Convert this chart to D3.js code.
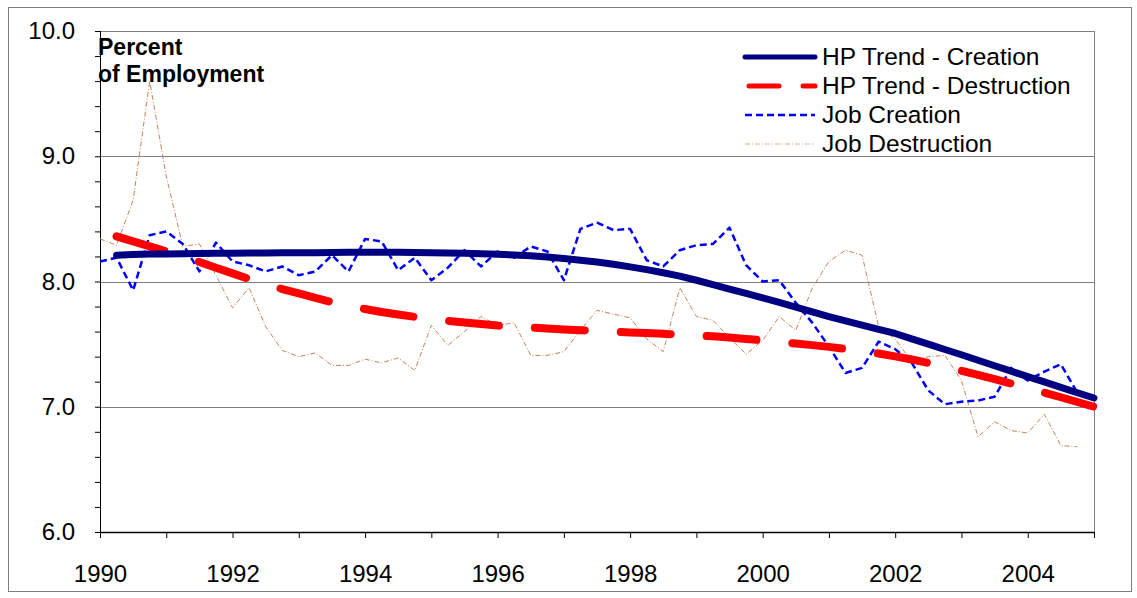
<!DOCTYPE html>
<html>
<head>
<meta charset="utf-8">
<script src="https://cdn.jsdelivr.net/npm/d3@7"></script>
<style>
  body { margin: 0; background: #fff; }
  svg text { font-family: Arial, "Liberation Sans", sans-serif; }
</style>
</head>
<body>
<div id="chart"></div>
<script>
// quarterly series
var rawStart = 1990.0;   // first quarter of the job series
var trendStart = 1990.25; // HP trends are plotted one quarter later

var jobCreation = [
  8.16, 8.19, 7.93, 8.37, 8.40, 8.30, 8.08, 8.31, 8.16, 8.13,
  8.08, 8.12, 8.05, 8.08, 8.21, 8.08, 8.34, 8.32, 8.09, 8.19,
  8.01, 8.11, 8.25, 8.12, 8.24, 8.19, 8.28, 8.24, 8.01, 8.42,
  8.47, 8.41, 8.42, 8.17, 8.12, 8.25, 8.29, 8.30, 8.43, 8.13,
  8.00, 8.01, 7.83, 7.67, 7.48, 7.27, 7.31, 7.52, 7.46, 7.35,
  7.13, 7.02, 7.04, 7.05, 7.08, 7.31, 7.21, 7.28, 7.34, 7.11
];

var jobDestruction = [
  8.34, 8.29, 8.65, 9.60, 8.84, 8.28, 8.30, 8.05, 7.79, 7.95,
  7.64, 7.45, 7.40, 7.43, 7.33, 7.33, 7.38, 7.35, 7.39, 7.29,
  7.65, 7.49, 7.60, 7.72, 7.65, 7.67, 7.41, 7.41, 7.44, 7.61,
  7.77, 7.74, 7.71, 7.54, 7.44, 7.95, 7.72, 7.69, 7.55, 7.42,
  7.53, 7.72, 7.61, 7.95, 8.16, 8.25, 8.21, 7.64, 7.54, 7.36,
  7.40, 7.41, 7.21, 6.76, 6.88, 6.81, 6.79, 6.94, 6.69, 6.68
];

var hpCreation = [
  8.210, 8.215, 8.220, 8.220, 8.222, 8.224, 8.225, 8.226, 8.227, 8.228,
  8.229, 8.230, 8.230, 8.232, 8.233, 8.233, 8.233, 8.233, 8.232, 8.230,
  8.228, 8.225, 8.222, 8.218, 8.212, 8.205, 8.195, 8.183, 8.170, 8.155,
  8.137, 8.117, 8.095, 8.070, 8.043, 8.010, 7.975, 7.940, 7.905, 7.870,
  7.833, 7.796, 7.758, 7.720, 7.686, 7.652, 7.618, 7.585, 7.542, 7.500,
  7.457, 7.415, 7.371, 7.327, 7.284, 7.240, 7.198, 7.155, 7.112, 7.070
];

var hpDestruction = [
  8.360, 8.320, 8.280, 8.240, 8.200, 8.155, 8.110, 8.065, 8.020, 7.980,
  7.940, 7.905, 7.870, 7.835, 7.805, 7.780, 7.757, 7.737, 7.718, 7.700,
  7.685, 7.672, 7.660, 7.648, 7.640, 7.632, 7.624, 7.617, 7.611, 7.605,
  7.599, 7.593, 7.588, 7.582, 7.576, 7.570, 7.562, 7.552, 7.541, 7.530,
  7.518, 7.505, 7.492, 7.478, 7.462, 7.445, 7.425, 7.402, 7.377, 7.350,
  7.320, 7.288, 7.254, 7.220, 7.185, 7.150, 7.113, 7.076, 7.038, 7.000
];

var xLabelYears = [1990, 1992, 1994, 1996, 1998, 2000, 2002, 2004];
var yLabelValues = [6, 7, 8, 9, 10];
var legendNames = ["HP Trend - Creation", "HP Trend - Destruction", "Job Creation", "Job Destruction"];
var titleLines = ["Percent", "of Employment"];

var W = 1137, H = 598;
var margin = { top: 31, right: 43, bottom: 66, left: 100 },
  width = W - margin.left - margin.right,
  height = H - margin.top - margin.bottom;

var svg = d3
  .select("#chart")
  .append("svg")
  .attr("width", W)
  .attr("height", H);

// outer frame
svg.append("rect")
  .attr("x", 8.5).attr("y", 7.5)
  .attr("width", W - 14).attr("height", H - 14)
  .attr("fill", "none")
  .attr("stroke", "#7f7f7f")
  .attr("stroke-width", 1);

var g = svg.append("g")
  .attr("transform", "translate(" + margin.left + "," + margin.top + ")");

var x = d3.scaleLinear().domain([1990, 2005]).range([0, width]);
var y = d3.scaleLinear().domain([6, 10]).range([height, 0]);

// gridlines + plot frame
g.selectAll(".grid")
  .data([7, 8, 9])
  .enter()
  .append("line")
  .attr("x1", 0).attr("x2", width)
  .attr("y1", function (d) { return Math.round(y(d)) + 0.5; })
  .attr("y2", function (d) { return Math.round(y(d)) + 0.5; })
  .attr("stroke", "#808080");

g.append("line")
  .attr("x1", 0).attr("x2", width).attr("y1", 0.5).attr("y2", 0.5)
  .attr("stroke", "#808080");
g.append("line")
  .attr("x1", width + 0.5).attr("x2", width + 0.5).attr("y1", 0).attr("y2", height)
  .attr("stroke", "#808080");

// y axis: minor ticks every 0.2, labels on whole numbers
var yAxis = d3.axisLeft(y)
  .tickValues(d3.range(30, 51).map(function (d) { return d / 5; }))
  .tickSize(5)
  .tickPadding(20)
  .tickFormat(function (d) {
    return yLabelValues.indexOf(Math.round(d * 10) / 10) >= 0 ? d3.format(".1f")(d) : "";
  });

g.append("g")
  .call(yAxis)
  .call(function (s) {
    s.attr("font-family", null).attr("font-size", null);
    s.selectAll("text").style("font-size", "24px").attr("fill", "#000");
    s.selectAll("line").attr("stroke", "#000");
    s.select(".domain").attr("stroke", "#000").attr("d", "M0.5,0V" + height);
  });

// x axis: yearly ticks, labels every two years
var xAxis = d3.axisBottom(x)
  .tickValues(d3.range(1990, 2006))
  .tickSize(6)
  .tickPadding(27)
  .tickFormat(function (d) { return xLabelYears.indexOf(d) >= 0 ? d : ""; });

g.append("g")
  .attr("transform", "translate(0," + height + ")")
  .call(xAxis)
  .call(function (s) {
    s.attr("font-family", null).attr("font-size", null);
    s.selectAll("text").style("font-size", "24px").attr("fill", "#000");
    s.selectAll("line").attr("stroke", "#000");
    s.select(".domain").attr("stroke", "#000").attr("stroke-width", 1.5).attr("d", "M0,0.5H" + width);
  });

function line(start) {
  return d3.line()
    .x(function (d, i) { return x(start + i * 0.25); })
    .y(function (d) { return y(d); });
}

var styles = [
  { color: "#000080", w: 7, dash: null, cap: "round" },
  { color: "#ff0000", w: 8, dash: "50,36", cap: "round" },
  { color: "#0000ff", w: 2.5, dash: "7,4", cap: "butt" },
  { color: "#c4825a", w: 1, dash: "5,2,1,2", cap: "butt" }
];

var series = [
  { data: jobDestruction, start: rawStart, s: styles[3] },
  { data: jobCreation, start: rawStart, s: styles[2] },
  { data: hpDestruction, start: trendStart, s: styles[1] },
  { data: hpCreation, start: trendStart, s: styles[0] }
];

series.forEach(function (d) {
  g.append("path")
    .datum(d.data)
    .attr("d", line(d.start))
    .attr("fill", "none")
    .attr("stroke", d.s.color)
    .attr("stroke-width", d.s.w)
    .attr("stroke-dasharray", d.s.dash)
    .attr("stroke-linecap", d.s.cap)
    .attr("stroke-linejoin", "round");
});

// axis title in the corner
g.append("text")
  .attr("x", -2)
  .attr("y", 24)
  .style("font-size", "23px")
  .attr("font-weight", "bold")
  .selectAll("tspan")
  .data(titleLines)
  .enter()
  .append("tspan")
  .attr("x", -2)
  .attr("dy", function (d, i) { return i === 0 ? 0 : 27; })
  .text(function (d) { return d; });

// legend
var legendDash = [null, "30,24", "7,4", "5,2,1,2"];
var legend = svg.selectAll(".legend")
  .data(legendNames)
  .enter()
  .append("g")
  .attr("transform", function (d, i) { return "translate(745," + (57 + i * 29) + ")"; });

legend.append("line")
  .attr("x1", function (d, i) { return i === 1 ? 4 : 0; })
  .attr("x2", 70)
  .attr("stroke", function (d, i) { return i === 3 ? "#dcae90" : styles[i].color; })
  .attr("stroke-width", function (d, i) { return i < 2 ? 5 : styles[i].w; })
  .attr("stroke-dasharray", function (d, i) { return legendDash[i]; })
  .attr("stroke-linecap", function (d, i) { return i < 2 ? "round" : "butt"; });

legend.append("text")
  .attr("x", 77)
  .attr("y", 8)
  .style("font-size", "24.5px")
  .text(function (d) { return d; });
</script>
</body>
</html>
